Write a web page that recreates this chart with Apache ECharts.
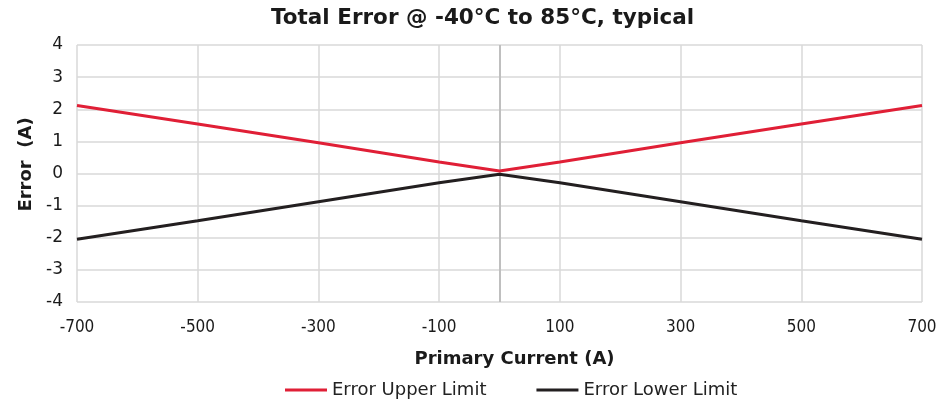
<!DOCTYPE html>
<html>
<head>
<meta charset="utf-8">
<script src="https://cdn.jsdelivr.net/npm/echarts@6/dist/echarts.min.js"></script>
<style>
  html, body { margin: 0; padding: 0; background: #fff; }
  #chart { width: 950px; height: 400px; }
</style>
</head>
<body>
<div id="chart"></div>
<script>
// primary current (A)
const current = [-700, -500, -300, -100, 0, 100, 300, 500, 700];
// error limits (A)
const upperLimit = [2.12, 1.54, 0.96, 0.36, 0.08, 0.36, 0.96, 1.54, 2.12];
const lowerLimit = [-2.05, -1.47, -0.88, -0.29, -0.02, -0.29, -0.88, -1.47, -2.05];

const chart = echarts.init(document.getElementById('chart'));

const pairs = (ys) => current.map((x, i) => [x, ys[i]]);

chart.setOption({
  animation: false,
  backgroundColor: '#fff',
  title: {
    text: 'Total Error @ -40°C to 85°C, typical',
    left: 266,
    top: 2,
    textStyle: {
      fontFamily: 'DejaVu Sans',
      fontWeight: 'bold',
      fontSize: 21.5,
      color: '#1a1a1a'
    }
  },
  grid: { left: 77, right: 28, top: 45, bottom: 98 },
  legend: {
    top: 376,
    left: 280,
    itemWidth: 42,
    itemHeight: 3,
    itemGap: 50,
    icon: 'rect',
    textStyle: { fontFamily: 'DejaVu Sans', fontSize: 18, color: '#222' },
    data: ['Error Upper Limit', 'Error Lower Limit']
  },
  xAxis: {
    type: 'value',
    min: -700,
    max: 700,
    interval: 100,
    name: 'Primary Current (A)',
    nameLocation: 'middle',
    nameGap: 48,
    nameTextStyle: {
      fontFamily: 'DejaVu Sans',
      fontWeight: 'bold',
      fontSize: 18,
      color: '#1a1a1a',
      padding: [0, 0, 0, 30]
    },
    axisLine: { show: false },
    axisTick: { show: false },
    axisLabel: {
      margin: 17,
      fontFamily: 'DejaVu Sans Condensed, DejaVu Sans',
      fontSize: 17,
      color: '#1a1a1a',
      formatter: (v) => (Math.abs(v) % 200 === 100 ? String(v) : '')
    },
    splitLine: {
      show: true,
      lineStyle: { color: ['#d9d9d9', 'rgba(0,0,0,0)'], width: 1.5 }
    }
  },
  yAxis: {
    type: 'value',
    min: -4,
    max: 4,
    interval: 1,
    name: 'Error  (A)',
    nameLocation: 'middle',
    nameGap: 42,
    nameTextStyle: {
      fontFamily: 'DejaVu Sans',
      fontWeight: 'bold',
      fontSize: 18,
      color: '#1a1a1a',
      padding: [0, 0, 0, 18]
    },
    axisLine: { show: false },
    axisTick: { show: false },
    axisLabel: {
      margin: 14,
      fontFamily: 'DejaVu Sans',
      fontSize: 17,
      color: '#1a1a1a'
    },
    splitLine: { lineStyle: { color: '#d9d9d9', width: 1.5 } }
  },
  series: [
    {
      name: 'Error Upper Limit',
      type: 'line',
      data: pairs(upperLimit),
      symbol: 'none',
      color: '#e01f36',
      lineStyle: { width: 3 },
      z: 3,
      markLine: {
        silent: true,
        symbol: 'none',
        label: { show: false },
        lineStyle: { color: '#bfbfbf', width: 2, type: 'solid' },
        data: [{ xAxis: 0 }],
        z: 1
      }
    },
    {
      name: 'Error Lower Limit',
      type: 'line',
      data: pairs(lowerLimit),
      symbol: 'none',
      color: '#231f20',
      lineStyle: { width: 3 },
      z: 2
    }
  ]
});
</script>
</body>
</html>
